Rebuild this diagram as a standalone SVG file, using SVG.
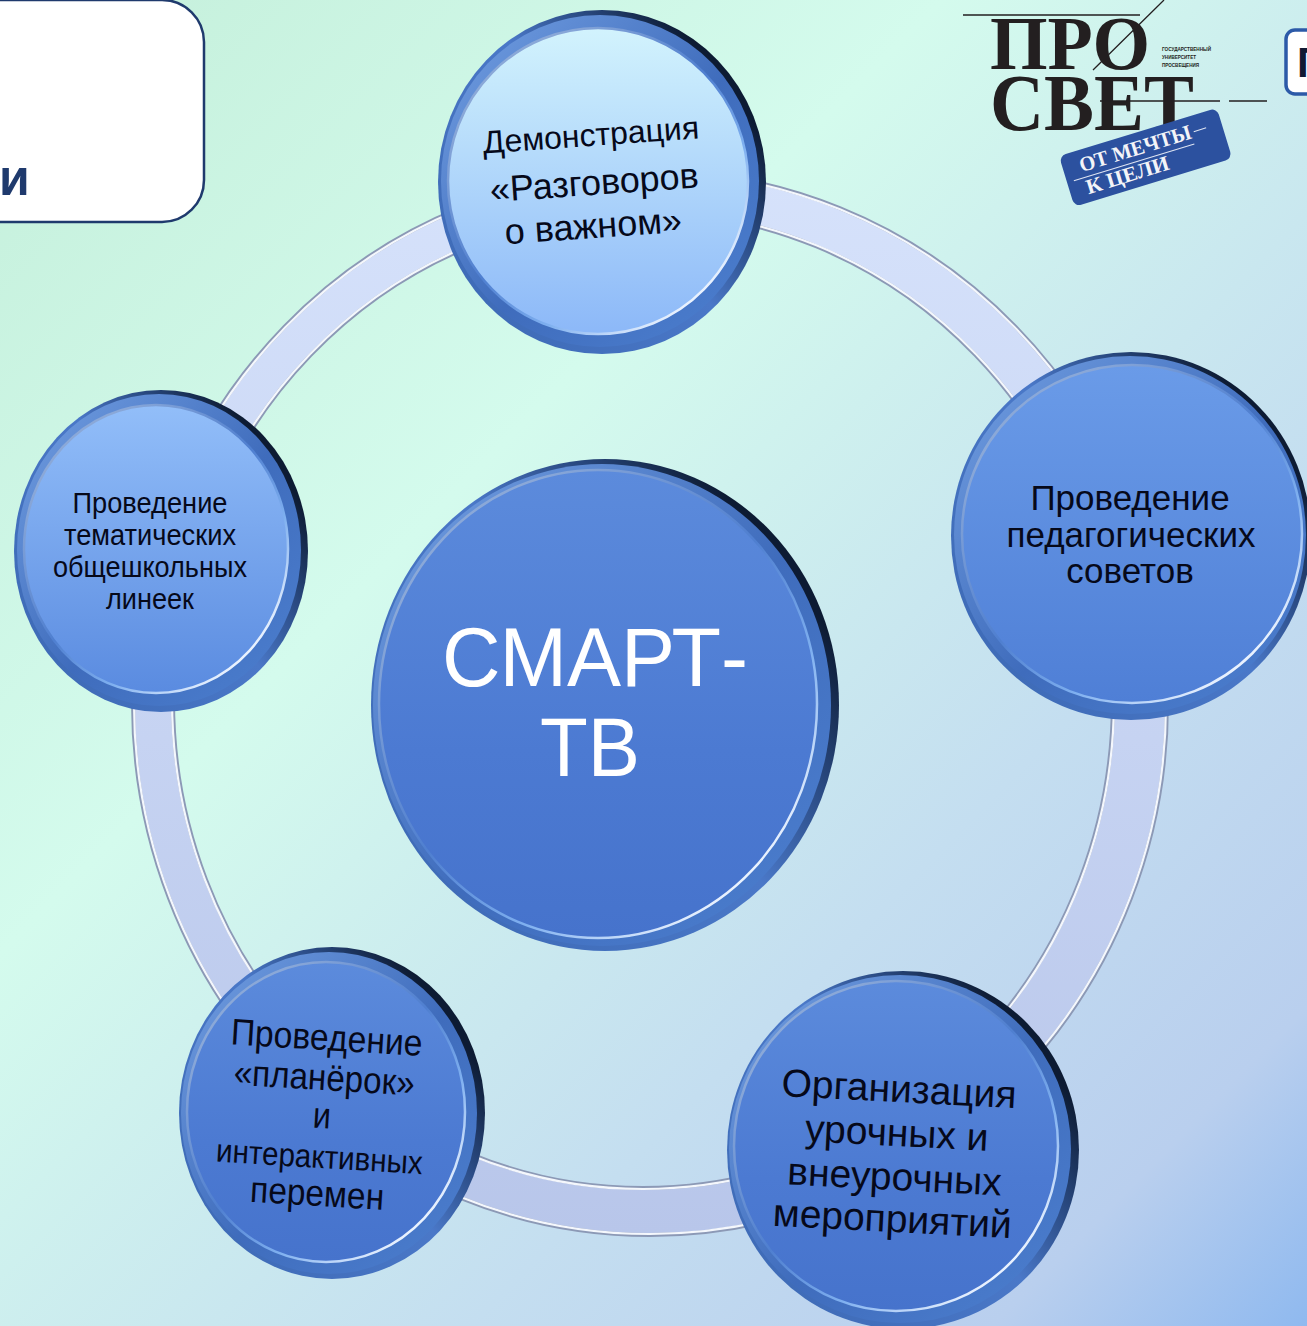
<svg xmlns="http://www.w3.org/2000/svg" width="1307" height="1326" viewBox="0 0 1307 1326">
<defs>
<linearGradient id="bg" x1="0" y1="0" x2="1" y2="1">
<stop offset="0" stop-color="#c4efda"/><stop offset=".36" stop-color="#d4fbed"/><stop offset=".68" stop-color="#c4def0"/><stop offset=".88" stop-color="#b9cfee"/><stop offset="1" stop-color="#8fb9ef"/>
</linearGradient>
<linearGradient id="ringFill" x1="0" y1="0" x2="0" y2="1">
<stop offset="0" stop-color="#d6e2fb"/><stop offset="1" stop-color="#b8c6ea"/>
</linearGradient>
<linearGradient id="rim" x1=".15" y1=".85" x2=".9" y2=".25">
<stop offset="0" stop-color="#3f6cb8"/><stop offset=".55" stop-color="#4a78c8"/><stop offset=".78" stop-color="#2a4a82"/><stop offset="1" stop-color="#0d1b33"/>
</linearGradient>
<linearGradient id="bevel" x1=".1" y1=".1" x2=".9" y2=".9">
<stop offset="0" stop-color="#6a97dc"/><stop offset=".55" stop-color="#3f6cbc"/><stop offset="1" stop-color="#4a7ccc"/>
</linearGradient>
<linearGradient id="glint" x1=".2" y1=".15" x2=".85" y2=".88">
<stop offset="0" stop-color="#8aa8d8"/><stop offset=".45" stop-color="#4f7fd0"/><stop offset=".72" stop-color="#7fb0f0"/><stop offset="1" stop-color="#f0f6ff"/>
</linearGradient>
<linearGradient id="light" x1="0" y1="0" x2="0" y2="1">
<stop offset="0" stop-color="#d2f3fd"/><stop offset="1" stop-color="#8cb8f8"/>
</linearGradient>
<linearGradient id="pale" x1="0" y1="0" x2="0" y2="1">
<stop offset="0" stop-color="#92bef9"/><stop offset="1" stop-color="#5a8be0"/>
</linearGradient>
<linearGradient id="mid" x1="0" y1="0" x2="0" y2="1">
<stop offset="0" stop-color="#6a9be8"/><stop offset="1" stop-color="#4f7fd6"/>
</linearGradient>
<linearGradient id="deep" x1="0" y1="0" x2="0" y2="1">
<stop offset="0" stop-color="#5c8bdc"/><stop offset=".6" stop-color="#4c7ad2"/><stop offset="1" stop-color="#4673cc"/>
</linearGradient>
<style>
.t{font-family:"Liberation Sans",Arial,sans-serif;fill:#06091a;text-anchor:middle}
.s{font-family:"Liberation Serif","Times New Roman",serif;fill:#231f20;font-weight:700}
.r{fill:url(#rim)}
.b{fill:url(#bevel)}
.g{stroke:url(#glint);stroke-width:2.5}
.l{stroke:#231f20;stroke-width:1.3;fill:none}
</style>
</defs>
<rect width="1307" height="1326" fill="url(#bg)"/>

<g id="connectors">
<path fill="url(#ringFill)" fill-rule="evenodd" d="M133 703a517 532 0 1 0 1034 0a517 532 0 1 0 -1034 0zM173 700a470 488 0 1 1 940 0a470 488 0 1 1 -940 0z"/>
<g fill="none">
<ellipse cx="650" cy="703" rx="517" ry="532" stroke="#8c99b6" stroke-width="4"/>
<ellipse cx="650" cy="703" rx="516" ry="531" stroke="#f4f7fc" stroke-width="2.2"/>
<ellipse cx="643" cy="700" rx="470" ry="488" stroke="#8c99b6" stroke-width="4"/>
<ellipse cx="643" cy="700" rx="471" ry="489" stroke="#f4f7fc" stroke-width="2.2"/>
</g>
</g>

<g id="title-box">
<rect x="-40" y="0" width="244" height="222" rx="42" fill="#fff" stroke="#1f3a6d" stroke-width="2.5"/>
<text x="-1" y="195" font-family="'Liberation Sans',Arial,sans-serif" font-weight="700" font-size="50" fill="#1f3a6d">и</text>
</g>

<g id="logo">
<path class="l" d="M963 15H1140M1093 70L1164 0"/>
<text class="s" x="990" y="68.5" font-size="77" textLength="160" lengthAdjust="spacingAndGlyphs">ПРО</text>
<text class="s" x="990" y="130" font-size="80" textLength="204" lengthAdjust="spacingAndGlyphs">СВЕТ</text>
<path class="l" d="M1100 101H1220M1229 101H1267"/>
<g font-family="'Liberation Sans',Arial,sans-serif" font-weight="700" font-size="5.6" fill="#231f20">
<text x="1162" y="51" textLength="49" lengthAdjust="spacingAndGlyphs">ГОСУДАРСТВЕННЫЙ</text><text x="1162" y="59" textLength="34" lengthAdjust="spacingAndGlyphs">УНИВЕРСИТЕТ</text><text x="1162" y="67" textLength="37" lengthAdjust="spacingAndGlyphs">ПРОСВЕЩЕНИЯ</text>
</g>
<g transform="rotate(-17 1145 157)">
<rect x="1063" y="131" width="165" height="53" rx="7" fill="#2c519f"/>
<text x="1080" y="153" font-family="'Liberation Serif',serif" font-weight="700" font-size="21" fill="#f3f4f8" textLength="116" lengthAdjust="spacingAndGlyphs">ОТ МЕЧТЫ</text>
<text x="1080" y="176" font-family="'Liberation Serif',serif" font-weight="700" font-size="21" fill="#f3f4f8" textLength="86" lengthAdjust="spacingAndGlyphs">К ЦЕЛИ</text>
<path d="M1199 147H1212M1070 159H1196" stroke="#dfe5f3" stroke-width="1"/>
</g>
</g>

<g id="edge-box">
<rect x="1286" y="30" width="60" height="64" rx="9" fill="#fff" stroke="#2c5aa8" stroke-width="3.5"/>
<text x="1297" y="77" font-family="'Liberation Sans',Arial,sans-serif" font-weight="700" font-size="42" fill="#111a33">Г</text>
</g>

<g id="node-top">
<ellipse class="r" cx="602" cy="182" rx="164" ry="172"/>
<ellipse class="b" cx="600" cy="181" rx="159" ry="166"/>
<ellipse class="g" cx="598" cy="181" rx="150" ry="153" fill="url(#light)"/>
<g transform="rotate(-4 592 180)">
<text class="t" x="594" y="146" font-size="32">Демонстрация</text>
<text class="t" x="594" y="195" font-size="36">«Разговоров</text>
<text class="t" x="590" y="238" font-size="36">о важном»</text>
</g>
</g>

<g id="node-right">
<ellipse class="r" cx="1131" cy="536" rx="180" ry="184"/>
<ellipse class="b" cx="1130" cy="535" rx="176" ry="179"/>
<ellipse class="g" cx="1132" cy="534" rx="170" ry="169" fill="url(#mid)"/>
<g font-size="35">
<text class="t" x="1130" y="510">Проведение</text>
<text class="t" x="1131" y="547">педагогических</text>
<text class="t" x="1130" y="583">советов</text>
</g>
</g>

<g id="node-bottom-right">
<ellipse class="r" cx="903" cy="1150" rx="176" ry="179"/>
<ellipse class="b" cx="900" cy="1149" rx="171" ry="174"/>
<ellipse class="g" cx="896" cy="1146" rx="162" ry="165" fill="url(#deep)"/>
<g transform="rotate(3 896 1150)" font-size="39">
<text class="t" x="896" y="1102">Организация</text>
<text class="t" x="896" y="1146">урочных и</text>
<text class="t" x="896" y="1190">внеурочных</text>
<text class="t" x="896" y="1232">мероприятий</text>
</g>
</g>

<g id="node-bottom-left">
<ellipse class="r" cx="332" cy="1113" rx="153" ry="166"/>
<ellipse class="b" cx="329" cy="1113" rx="148" ry="161"/>
<ellipse class="g" cx="326" cy="1112" rx="139" ry="150" fill="url(#deep)"/>
<g transform="rotate(3.5 322 1115)" font-size="37">
<text class="t" x="322" y="1050" textLength="192" lengthAdjust="spacingAndGlyphs">Проведение</text>
<text class="t" x="322" y="1090" textLength="181" lengthAdjust="spacingAndGlyphs">«планёрок»</text>
<text class="t" x="322" y="1128" textLength="18" lengthAdjust="spacingAndGlyphs">и</text>
<text class="t" x="322" y="1168" font-size="33" textLength="207" lengthAdjust="spacingAndGlyphs">интерактивных</text>
<text class="t" x="322" y="1206" textLength="134" lengthAdjust="spacingAndGlyphs">перемен</text>
</g>
</g>

<g id="node-left">
<ellipse class="r" cx="161" cy="551" rx="147" ry="161"/>
<ellipse class="b" cx="159" cy="550" rx="142" ry="156"/>
<ellipse class="g" cx="156" cy="549" rx="132" ry="144" fill="url(#pale)"/>
<g font-size="29">
<text class="t" x="150" y="513" textLength="155" lengthAdjust="spacingAndGlyphs">Проведение</text>
<text class="t" x="150" y="545" textLength="172" lengthAdjust="spacingAndGlyphs">тематических</text>
<text class="t" x="150" y="577" textLength="194" lengthAdjust="spacingAndGlyphs">общешкольных</text>
<text class="t" x="150" y="609" textLength="88" lengthAdjust="spacingAndGlyphs">линеек</text>
</g>
</g>

<g id="node-center">
<ellipse class="r" cx="605" cy="705" rx="234" ry="246"/>
<ellipse class="b" cx="602" cy="705" rx="229" ry="241"/>
<ellipse class="g" cx="598" cy="704" rx="219" ry="234" fill="url(#deep)"/>
<text x="595" y="686" font-family="'Liberation Sans',Arial,sans-serif" font-size="84" fill="#fff" text-anchor="middle" textLength="306" lengthAdjust="spacingAndGlyphs">СМАРТ-</text>
<text x="590" y="776" font-family="'Liberation Sans',Arial,sans-serif" font-size="84" fill="#fff" text-anchor="middle" textLength="100" lengthAdjust="spacingAndGlyphs">ТВ</text>
</g>
</svg>
